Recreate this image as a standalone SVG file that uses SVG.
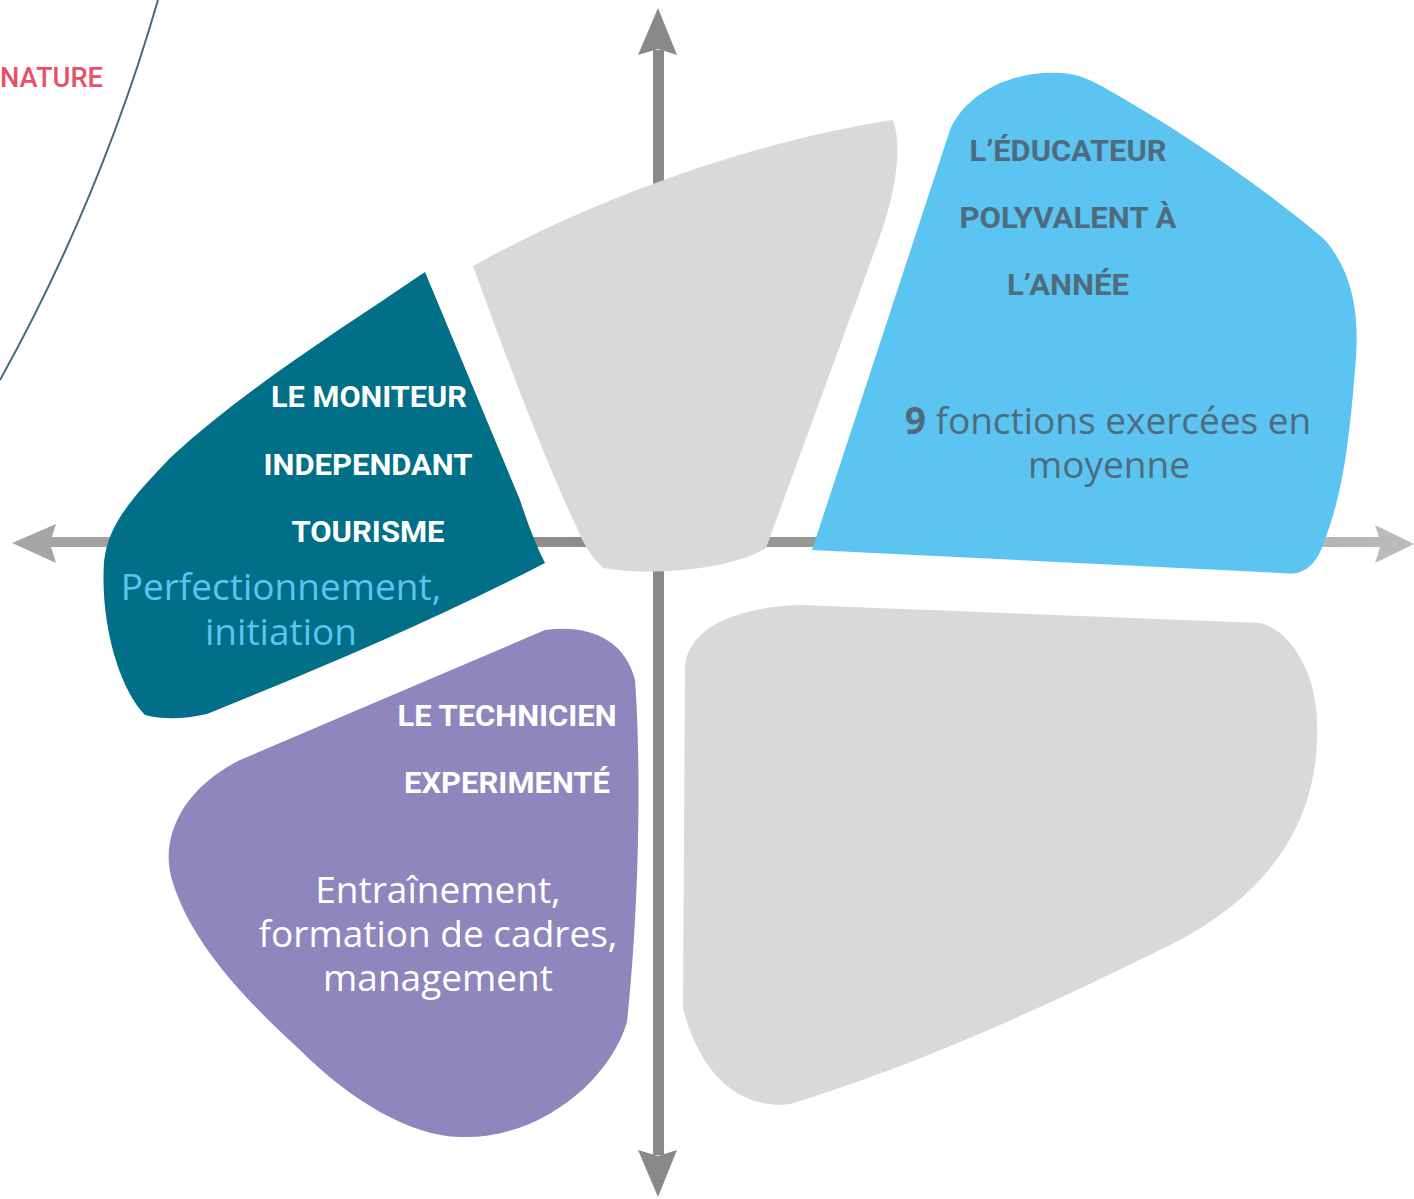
<svg xmlns="http://www.w3.org/2000/svg" width="1414" height="1199" viewBox="0 0 1414 1199">
<defs>
<linearGradient id="hg" x1="0" y1="0" x2="1414" y2="0" gradientUnits="userSpaceOnUse">
<stop offset="0" stop-color="#a6a6a6"/>
<stop offset="0.42" stop-color="#8c8c8c"/>
<stop offset="1" stop-color="#bababa"/>
</linearGradient>
</defs>
<style>
.title{font-family:Roboto,"Liberation Sans",sans-serif;font-weight:700;font-size:30px;text-anchor:middle}
.body{font-family:"Open Sans","Noto Sans",sans-serif;font-size:37px;text-anchor:middle}
.w{fill:#ffffff}
.slate{fill:#4f6b7e}
</style>
<rect width="1414" height="1199" fill="#ffffff"/>
<g id="connectors">
<path d="M 158,0 Q 100,200 0,380" fill="none" stroke="#4a6a7c" stroke-width="2"/>
<rect x="48" y="537" width="1335" height="10" fill="url(#hg)"/>
<polygon points="12,543 56,524 50,543 56,563" fill="#a6a6a6"/>
<polygon points="1414,544 1375,525 1381,544 1375,563" fill="#bababa"/>
<rect x="653" y="50" width="11" height="1105" fill="#898989"/>
<polygon points="658,8 638,55 658,49 677,55" fill="#898989"/>
<polygon points="658,1197 638,1150 658,1156 677,1150" fill="#898989"/>
</g>
<text x="0" y="87" font-family="Roboto,'Liberation Sans',sans-serif" font-weight="500" font-size="27" fill="#e8506a" textLength="103" lengthAdjust="spacingAndGlyphs">NATURE</text>
<g id="gray-top">
<path d="M 473,266 C 600,195 760,140 893,120 C 902,145 898,190 875,250 L 766,548 C 740,566 660,578 603,568 C 590,555 584,545 578,530 C 540,450 500,340 473,266 Z" fill="#d9d9d9"/>
</g>
<g id="moniteur">
<path d="M 425,272 L 520,500 Q 533,540 545,563 C 430,622 320,668 207,714 Q 172,722 145,715 C 120,690 100,625 104,562 C 108,525 130,500 170,458 C 250,385 340,330 425,272 Z" fill="#006f87"/>
<text class="title w" x="369" y="407" textLength="196" lengthAdjust="spacingAndGlyphs">LE MONITEUR</text>
<text class="title w" x="368" y="475" textLength="209" lengthAdjust="spacingAndGlyphs">INDEPENDANT</text>
<text class="title w" x="368" y="542" textLength="153" lengthAdjust="spacingAndGlyphs">TOURISME</text>
<text class="body" x="281" y="600" fill="#5bc4f1">Perfectionnement,</text>
<text class="body" x="281" y="645" fill="#5bc4f1">initiation</text>
</g>
<g id="educateur">
<path d="M 812,550 L 950,130 C 965,95 1010,70 1060,73 C 1080,74 1090,80 1105,88 C 1180,130 1260,185 1325,240 C 1355,275 1360,320 1355,370 C 1350,430 1345,480 1330,525 C 1322,548 1318,565 1300,572 C 1295,574 1290,574 1280,573 Z" fill="#5bc4f1"/>
<text class="title slate" x="1068" y="161" textLength="197" lengthAdjust="spacingAndGlyphs">L’ÉDUCATEUR</text>
<text class="title slate" x="1068" y="228" textLength="217" lengthAdjust="spacingAndGlyphs">POLYVALENT À</text>
<text class="title slate" x="1068" y="295" textLength="122" lengthAdjust="spacingAndGlyphs">L’ANNÉE</text>
<text class="body slate" x="1108" y="434"><tspan font-weight="700">9</tspan> fonctions exercées en</text>
<text class="body slate" x="1109" y="478">moyenne</text>
</g>
<g id="technicien">
<path d="M 545,630 C 590,624 625,640 635,680 C 641,760 640,900 627,1022 C 610,1080 540,1140 460,1137 C 410,1136 350,1100 300,1050 C 240,995 190,940 172,880 C 160,840 180,790 240,760 Z" fill="#8f86bd"/>
<text class="title w" x="507" y="726" textLength="219" lengthAdjust="spacingAndGlyphs">LE TECHNICIEN</text>
<text class="title w" x="507" y="793" textLength="206" lengthAdjust="spacingAndGlyphs">EXPERIMENTÉ</text>
<text class="body w" x="438" y="903">Entraînement,</text>
<text class="body w" x="438" y="947">formation de cadres,</text>
<text class="body w" x="438" y="991">management</text>
</g>
<g id="gray-bottom">
<path d="M 685,665 C 690,625 740,607 800,605 L 1260,623 C 1290,630 1315,670 1317,720 C 1320,800 1290,880 1180,940 C 1020,1020 900,1070 790,1104 C 740,1110 700,1075 683,1008 Z" fill="#d9d9d9"/>
</g>
</svg>
